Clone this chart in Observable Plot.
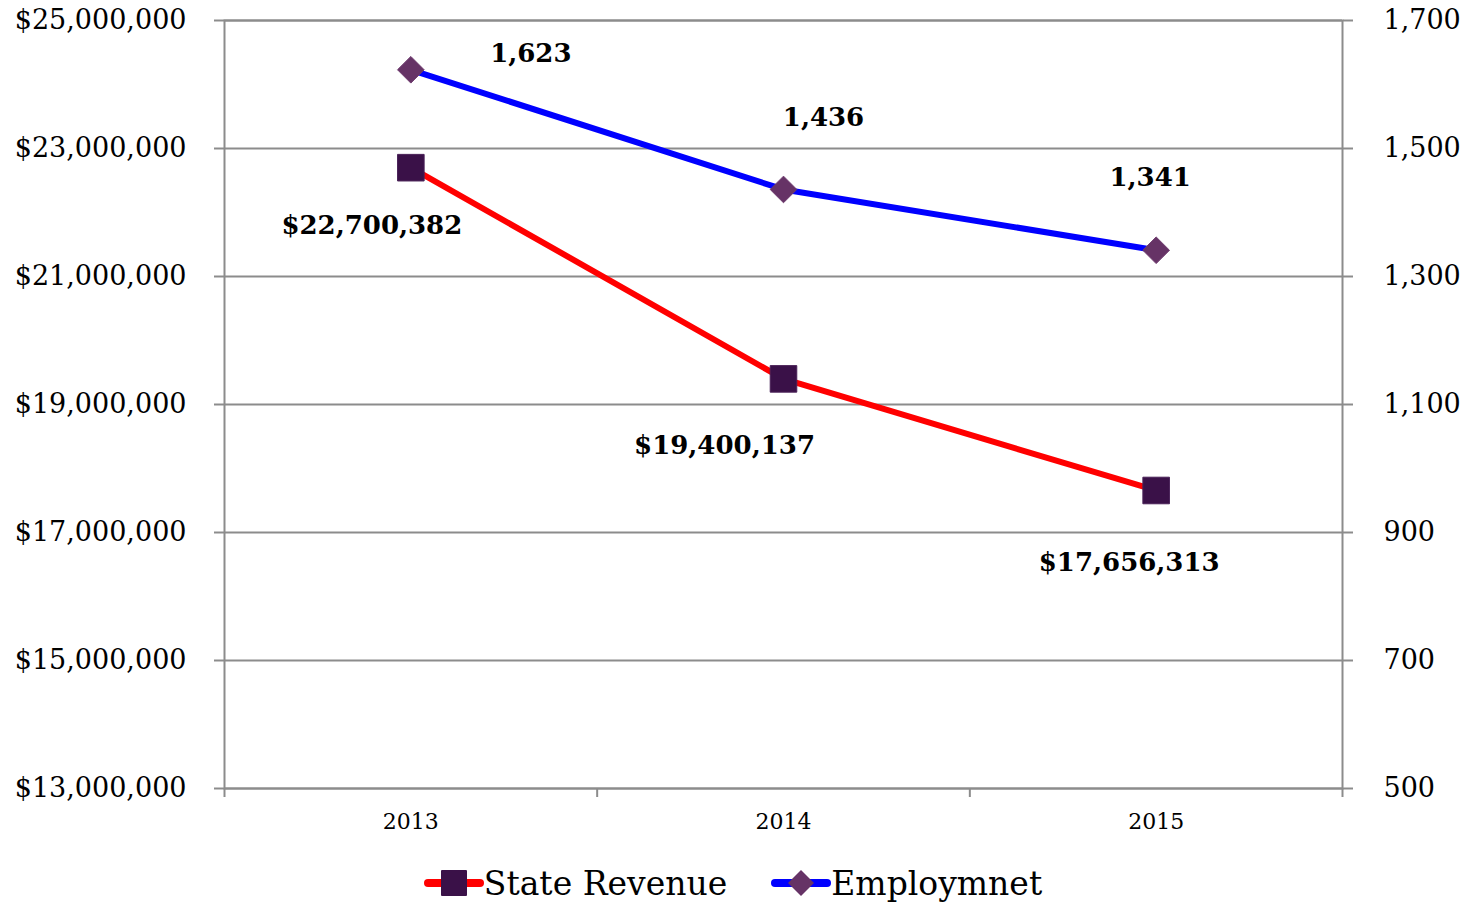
<!DOCTYPE html>
<html>
<head>
<meta charset="utf-8">
<script src="https://cdn.jsdelivr.net/npm/d3@7"></script>
<script src="https://cdn.jsdelivr.net/npm/@observablehq/plot@0.6"></script>
<style>
  html, body { margin: 0; padding: 0; background: #fff; overflow: hidden; }
  #legend { height: 66px; display: flex; justify-content: center; align-items: center; gap: 44px;
    font-family: "DejaVu Serif", serif; font-size: 33px; color: #000; }
  #legend .item { display: flex; align-items: center; }
</style>
</head>
<body>
<div id="chart"></div>
<div id="legend"></div>
<script>
const years = ["2013", "2014", "2015"];
const stateRevenue = [22700382, 19400137, 17656313];
const employment = [1623, 1436, 1341];
const revenueTicks = [13000000, 15000000, 17000000, 19000000, 21000000, 23000000, 25000000];
const employmentTicks = [500, 700, 900, 1100, 1300, 1500, 1700];
const seriesNames = ["State Revenue", "Employmnet"];

// label offsets (style)
const revLabelOffsets = [[-39, 58], [-59, 67], [-27, 72]];
const empLabelOffsets = [[120, -16], [40, -72], [-6, -73]];

// map employment (right axis 500..1700) onto revenue scale (13M..25M)
const empToRev = e => 13000000 + (e - 500) * 10000;
const revToEmp = r => 500 + (r - 13000000) / 10000;

const revData = years.map((y, i) => ({i, year: y, value: stateRevenue[i]}));
const empData = years.map((y, i) => ({i, year: y, value: employment[i], y: empToRev(employment[i])}));

const grid = "#8c8c8c";
const fmtMoney = v => "$" + d3.format(",")(v);
const fmtNum = d3.format(",");

const labelMarks = [];
revData.forEach((d, k) => labelMarks.push(Plot.text([d], {
  x: d => d.i + 0.5, y: "value", text: d => fmtMoney(d.value),
  dx: revLabelOffsets[k][0], dy: revLabelOffsets[k][1],
  fontWeight: "bold", fontSize: 26, fill: "#000"
})));
empData.forEach((d, k) => labelMarks.push(Plot.text([d], {
  x: d => d.i + 0.5, y: "y", text: d => fmtNum(d.value),
  dx: empLabelOffsets[k][0], dy: empLabelOffsets[k][1],
  fontWeight: "bold", fontSize: 26, fill: "#000"
})));

const chart = Plot.plot({
  width: 1466,
  height: 850,
  marginLeft: 224,
  marginRight: 124,
  marginTop: 20,
  marginBottom: 62,
  style: {fontFamily: "DejaVu Serif, serif", fontSize: "27px", color: "#000", background: "#fff"},
  x: {domain: [0, years.length]},
  y: {domain: [13000000, 25000000]},
  marks: [
    Plot.gridY(revenueTicks, {stroke: grid, strokeOpacity: 1, strokeWidth: 2}),
    Plot.frame({stroke: grid, strokeWidth: 2}),
    Plot.axisY(revenueTicks, {anchor: "left", tickSize: 10, tickPadding: 28, stroke: grid, strokeWidth: 2,
      tickFormat: fmtMoney, fontSize: 27, label: null}),
    Plot.axisY(employmentTicks.map(empToRev), {anchor: "right", tickSize: 10, tickPadding: 31, stroke: grid, strokeWidth: 2,
      tickFormat: d => fmtNum(revToEmp(d)), fontSize: 27, label: null}),
    Plot.axisX(d3.range(years.length + 1), {anchor: "bottom", tickSize: 9, stroke: grid, strokeWidth: 2,
      tickFormat: () => "", label: null}),
    Plot.axisX(years.map((y, i) => i + 0.5), {anchor: "bottom", tickSize: 0, tickPadding: 25,
      tickFormat: d => years[d - 0.5], fontSize: 22, label: null}),
    Plot.line(revData, {x: d => d.i + 0.5, y: "value", stroke: "#ff0000", strokeWidth: 6}),
    Plot.line(empData, {x: d => d.i + 0.5, y: "y", stroke: "#0000ff", strokeWidth: 6}),
    Plot.dot(revData, {x: d => d.i + 0.5, y: "value", symbol: "square", r: 15, fill: "#3a1148", stroke: "#4a2258", strokeWidth: 1}),
    Plot.dot(empData, {x: d => d.i + 0.5, y: "y", symbol: "diamond2", r: 12, fill: "#663366", stroke: "#6e3a6e", strokeWidth: 1}),
    ...labelMarks
  ]
});
document.getElementById("chart").appendChild(chart);

// legend
const legend = document.getElementById("legend");
const swatches = [
  `<svg width="60" height="30"><line x1="4" y1="15" x2="56" y2="15" stroke="#ff0000" stroke-width="8" stroke-linecap="round"/><rect x="17" y="2" width="26" height="26" rx="1" fill="#3a1148"/></svg>`,
  `<svg width="60" height="30"><line x1="4" y1="15" x2="56" y2="15" stroke="#0000ff" stroke-width="8" stroke-linecap="round"/><path d="M30,2 L43,15 L30,28 L17,15 Z" fill="#663366"/></svg>`
];
seriesNames.forEach((name, i) => {
  const item = document.createElement("div");
  item.className = "item";
  item.innerHTML = swatches[i] + `<span>${name}</span>`;
  legend.appendChild(item);
});
</script>
</body>
</html>
